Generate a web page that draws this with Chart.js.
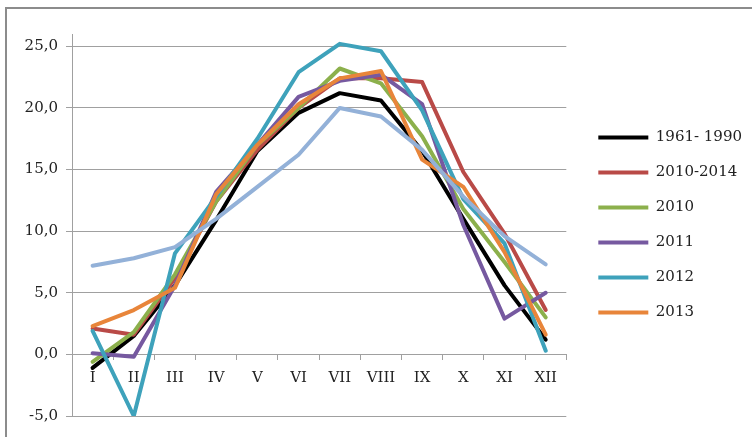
<!DOCTYPE html>
<html>
<head>
<meta charset="utf-8">
<script src="https://cdn.jsdelivr.net/npm/chart.js@4"></script>
<style>
  html, body { margin: 0; padding: 0; background: #fff; }
  #wrap { position: relative; width: 752px; height: 437px; overflow: hidden; }
  #frame { position: absolute; left: 5px; top: 7px; right: -10px; bottom: -10px;
           border-left: 2px solid #8c8c8c; border-top: 2px solid #8c8c8c; }
  canvas { position: absolute; left: 0; top: 0; }
</style>
</head>
<body>
<div id="wrap">
  <div id="frame"></div>
  <canvas id="chart" width="752" height="437"></canvas>
</div>
<script>
const months = ["I", "II", "III", "IV", "V", "VI", "VII", "VIII", "IX", "X", "XI", "XII"];

const norm6190 = [-1.1, 1.5, 5.6, 10.9, 16.5, 19.6, 21.2, 20.6, 16.5, 11.0, 5.6, 1.2];
const avg1014 = [2.1, 1.6, 6.2, 12.4, 16.6, 20.0, 22.4, 22.4, 22.1, 14.8, 9.8, 3.6];
const y2010 = [-0.6, 1.8, 6.5, 12.4, 17.0, 20.0, 23.2, 22.0, 17.7, 11.8, 7.5, 3.0];
const y2011 = [0.1, -0.2, 5.6, 13.2, 17.0, 20.9, 22.2, 22.7, 20.3, 10.5, 2.9, 5.0];
const y2012 = [1.9, -5.0, 8.2, 12.8, 17.5, 22.9, 25.2, 24.6, 19.8, 12.6, 9.0, 0.3];
const y2013 = [2.3, 3.6, 5.4, 13.0, 17.0, 20.3, 22.4, 23.0, 15.8, 13.6, 8.3, 1.6];
const y2014 = [7.2, 7.8, 8.7, 11.0, 13.6, 16.2, 20.0, 19.3, 16.6, 12.8, 9.6, 7.3];

const yTicks = [-5, 0, 5, 10, 15, 20, 25];

const seriesNames = ["1961- 1990", "2010-2014", "2010", "2011", "2012", "2013", "2014"];
const seriesData = [norm6190, avg1014, y2010, y2011, y2012, y2013, y2014];
const seriesColors = ["#000000", "#b94a47", "#8cb04c", "#7659a0", "#3ea2bb", "#e8853a", "#93b1d8"];

const font = { family: "'DejaVu Serif', serif", size: 15 };

const datasets = seriesData.map((d, i) => ({
  label: seriesNames[i],
  data: d,
  borderColor: seriesColors[i],
  backgroundColor: seriesColors[i],
  borderWidth: 4,
  pointRadius: 0,
  pointHoverRadius: 0,
  tension: 0,
  borderJoinStyle: "round",
  borderCapStyle: "round",
  pointStyle: "line",
  order: seriesData.length - i
}));

new Chart(document.getElementById("chart"), {
  type: "line",
  data: { labels: months, datasets: datasets },
  options: {
    responsive: false,
    animation: false,
    layout: { padding: { left: 0, top: 34, bottom: 21, right: 0 } },
    plugins: {
      tooltip: { enabled: false },
      legend: {
        position: "right",
        labels: {
          usePointStyle: true,
          pointStyleWidth: 50,
          padding: 20,
          color: "#222",
          font: font,
          filter: item => item.datasetIndex !== 6,
          sort: (a, b) => a.datasetIndex - b.datasetIndex
        }
      }
    },
    scales: {
      x: {
        position: { y: 0 },
        offset: true,
        grid: { offset: true, drawOnChartArea: false, drawTicks: true, tickLength: 5, color: "#a0a0a0" },
        border: { color: "#a0a0a0", width: 1 },
        ticks: { color: "#222", font: font, padding: 10, maxRotation: 0, autoSkip: false },
        afterFit: s => { s.height = 0; }
      },
      y: {
        min: -5,
        max: 26,
        afterBuildTicks: s => { s.ticks = yTicks.map(v => ({ value: v })); },
        grid: { color: "#a0a0a0", tickLength: 6 },
        border: { color: "#a0a0a0", width: 1 },
        ticks: { color: "#222", font: font, padding: 8, callback: v => v.toFixed(1).replace(".", ",") },
        afterFit: s => { s.width = 72; }
      },
      // empty spacer between the plot and the legend
      y2: {
        position: "right",
        display: false,
        afterFit: s => { s.width = 12; }
      }
    }
  }
});
</script>
</body>
</html>
